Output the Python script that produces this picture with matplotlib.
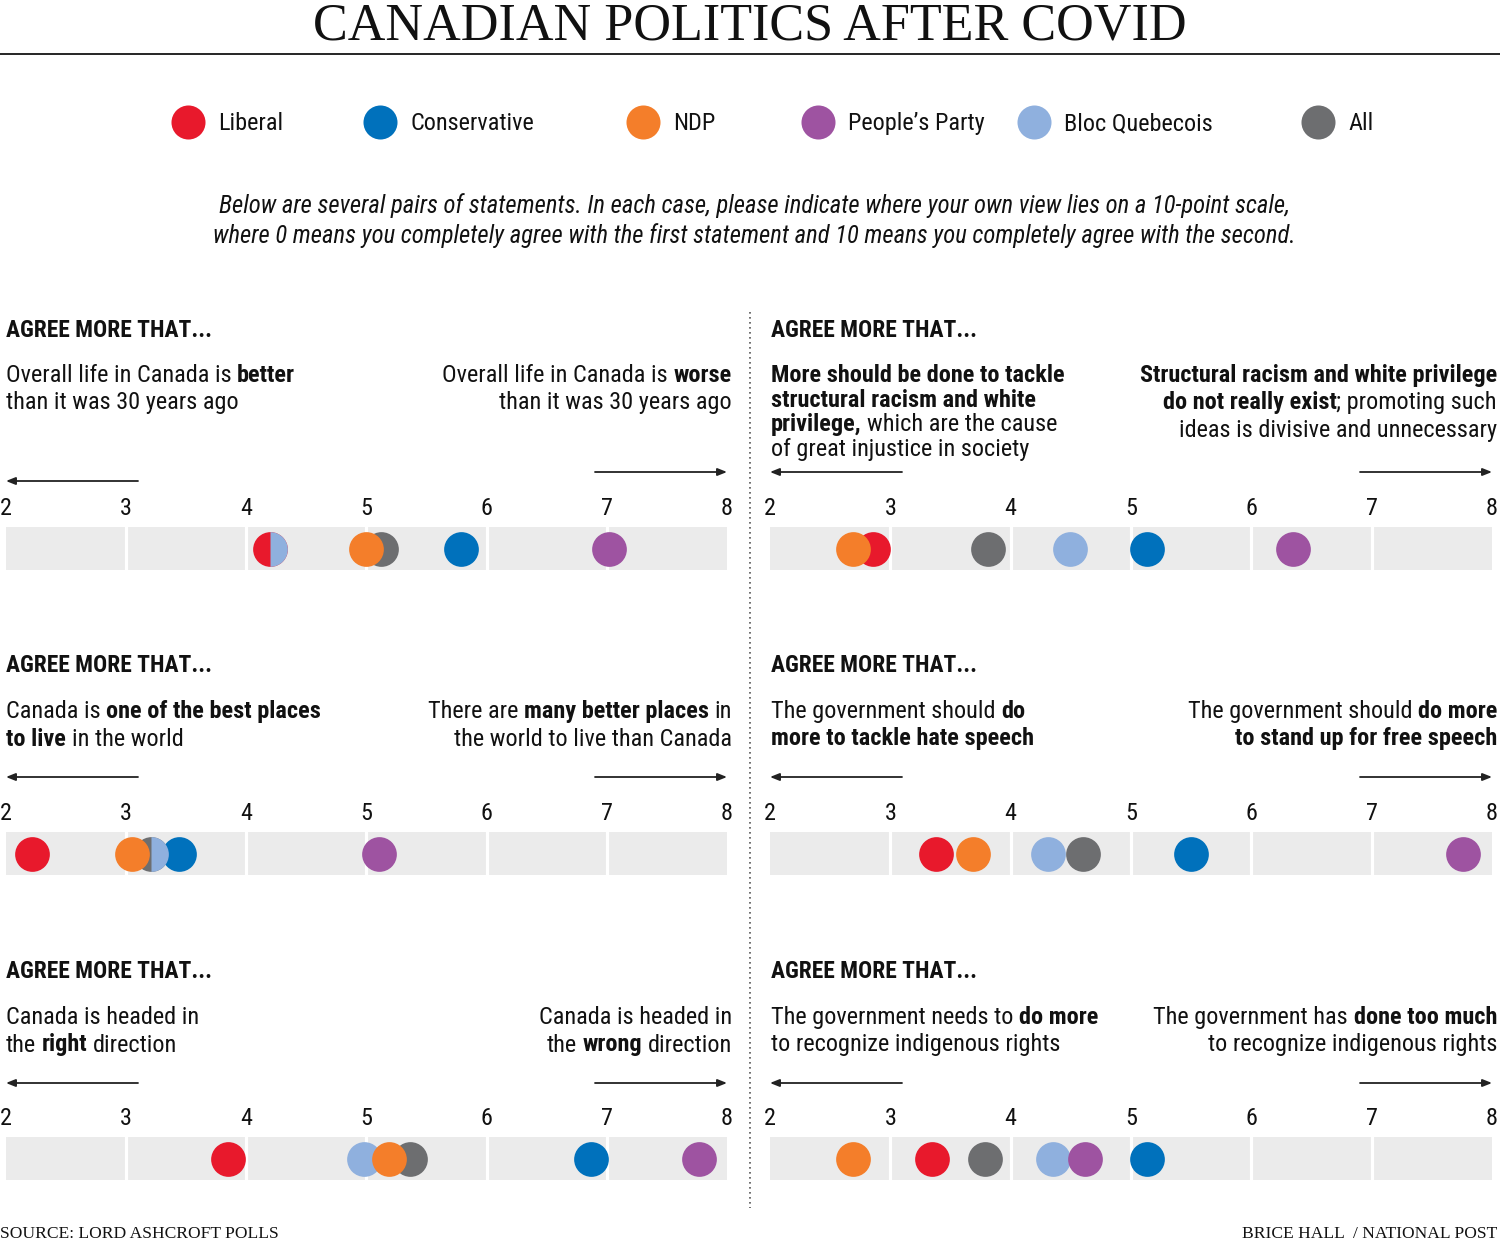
import matplotlib
matplotlib.use("Agg")
import matplotlib.pyplot as plt

# ─── data ────────────────────────────────────────────────────────────────
PARTIES = ["Liberal", "Conservative", "NDP", "People\u2019s Party", "Bloc Quebecois", "All"]
COLORS  = ["#e8192c", "#0071bc", "#f47e2a", "#9e53a1", "#8fb0de", "#6d6e70"]
ORDER   = [5, 0, 1, 4, 3, 2]          # draw order, last on top
TICKS   = [2, 3, 4, 5, 6, 7, 8]

# mean position on the 0-10 scale, in PARTIES order
LIFE_BETTER = [4.20, 5.79, 5.00, 7.02, 4.20, 5.12]
RACISM      = [2.86, 5.13, 2.69, 6.35, 4.49, 3.81]
BEST_PLACE  = [2.22, 3.44, 3.05, 5.10, 3.21, 3.21]
HATE_SPEECH = [3.38, 5.50, 3.69, 7.76, 4.31, 4.60]
DIRECTION   = [3.85, 6.87, 5.19, 7.77, 4.98, 5.36]
INDIGENOUS  = [3.35, 5.13, 2.69, 4.62, 4.35, 3.79]

# statements: list of lines, each a list of (text, bold)
LIFE_L = [[("Overall life in Canada is ", 0), ("better", 1)], [("than it was 30 years ago", 0)]]
LIFE_R = [[("Overall life in Canada is ", 0), ("worse", 1)], [("than it was 30 years ago", 0)]]
RAC_L  = [[("More should be done to tackle", 1)], [("structural racism and white", 1)],
          [("privilege,", 1), (" which are the cause", 0)], [("of great injustice in society", 0)]]
RAC_R  = [[("Structural racism and white privilege", 1)],
          [("do not really exist", 1), ("; promoting such", 0)],
          [("ideas is divisive and unnecessary", 0)]]
BEST_L = [[("Canada is ", 0), ("one of the best places", 1)], [("to live", 1), (" in the world", 0)]]
BEST_R = [[("There are ", 0), ("many better places", 1), (" in", 0)], [("the world to live than Canada", 0)]]
HATE_L = [[("The government should ", 0), ("do", 1)], [("more to tackle hate speech", 1)]]
HATE_R = [[("The government should ", 0), ("do more", 1)], [("to stand up for free speech", 1)]]
DIR_L  = [[("Canada is headed in", 0)], [("the ", 0), ("right", 1), (" direction", 0)]]
DIR_R  = [[("Canada is headed in", 0)], [("the ", 0), ("wrong", 1), (" direction", 0)]]
IND_L  = [[("The government needs to ", 0), ("do more", 1)], [("to recognize indigenous rights", 0)]]
IND_R  = [[("The government has ", 0), ("done too much", 1)], [("to recognize indigenous rights", 0)]]

# ─── layout ──────────────────────────────────────────────────────────────
W, H = 1500, 1241
SANS  = ["Roboto Condensed", "DejaVu Sans Condensed", "Open Sans Condensed", "Roboto", "DejaVu Sans"]
SERIF = ["Liberation Serif", "DejaVu Serif"]
BAND  = "#ebebeb"
INK   = "#111111"

COLS = [dict(x0=6, x1=727, tl=6, tr=732), dict(x0=770, x1=1492, tl=771, tr=1497)]
ROWS = [dict(tick=506, head=337, text=382), dict(tick=811, head=672, text=718),
        dict(tick=1116, head=978, text=1024)]

# (values, left text, right text, col, row, left spacing, right spacing, arrow y left, arrow y right)
PANELS = [
    (LIFE_BETTER, LIFE_L, LIFE_R, 0, 0, 27.5, 27.5, 481, 472),
    (RACISM,      RAC_L,  RAC_R,  1, 0, 24.7, 27.5, 472, 472),
    (BEST_PLACE,  BEST_L, BEST_R, 0, 1, 27.5, 27.5, 777, 777),
    (HATE_SPEECH, HATE_L, HATE_R, 1, 1, 27.5, 27.5, 777, 777),
    (DIRECTION,   DIR_L,  DIR_R,  0, 2, 27.5, 27.5, 1083, 1083),
    (INDIGENOUS,  IND_L,  IND_R,  1, 2, 27.5, 27.5, 1083, 1083),
]

fig = plt.figure(figsize=(W / 100, H / 100), dpi=100)
ax0 = fig.add_axes([0, 0, 1, 1])
ax0.set_xlim(0, W); ax0.set_ylim(H, 0); ax0.axis("off")
renderer = fig.canvas.get_renderer()


def width(s, bold, size):
    t = ax0.text(0, 0, s, fontsize=size, family=SANS, fontweight="bold" if bold else "normal")
    w = t.get_window_extent(renderer).width
    t.remove()
    return w


def layout_line(parts, size):
    pieces, total = [], 0.0
    for s, b in parts:
        sp = width("n n", b, size) - width("nn", b, size)
        core = s.strip(" ")
        total += (len(s) - len(s.lstrip(" "))) * sp
        pieces.append((total, core, b))
        total += width(core, b, size) + (len(s) - len(s.rstrip(" "))) * sp
    return pieces, total


# fit the sans size so the first statement line is as wide as in the original (289 px)
K = 289 / layout_line(LIFE_L[0], 18)[1]
FS, FS_HEAD, FS_SUB = 18 * K, 17.5 * K, 18.3 * K


def rich_line(x, y, parts, ha="left", size=FS):
    pieces, total = layout_line(parts, size)
    start = x if ha == "left" else x - total
    for off, core, b in pieces:
        ax0.text(start + off, y, core, ha="left", va="baseline", fontsize=size, family=SANS,
                 fontweight="bold" if b else "normal", color=INK)


def arrow(tail, tip, y):
    ax0.annotate("", xy=(tip, y), xytext=(tail, y),
                 arrowprops=dict(arrowstyle="-|>,head_length=0.55,head_width=0.22",
                                 lw=1.3, color="#222222", shrinkA=0, shrinkB=0))


# ─── header ──────────────────────────────────────────────────────────────
ax0.text(W / 2, 39, "CANADIAN POLITICS AFTER COVID", ha="center", va="baseline",
         fontsize=37.5, family=SERIF, color=INK)
ax0.plot([0, W], [54, 54], color="black", lw=1.2)

LEG_X = [188, 380, 643, 818, 1034, 1318]
for i, x in enumerate(LEG_X):
    ax0.plot(x, 122, "o", ms=24.5, color=COLORS[i], mec="none")
    ax0.text(x + 30, 130, PARTIES[i], ha="left", va="baseline", fontsize=FS,
             family=SANS, color=INK)

SUB = ["Below are several pairs of statements. In each case, please indicate where your own view lies on a 10-point scale,",
       "where 0 means you completely agree with the first statement and 10 means you completely agree with the second."]
for k, line in enumerate(SUB):
    ax0.text(754, 213 + 30 * k, line, ha="center", va="baseline", fontsize=FS_SUB,
             family=SANS, style="italic", color=INK)

ax0.plot([750, 750], [312, 1208], color="#555555", lw=1.2, ls=(0, (1, 2)))

# ─── panels ──────────────────────────────────────────────────────────────
for vals, ltxt, rtxt, c, r, lsp, rsp, ayl, ayr in PANELS:
    col, row = COLS[c], ROWS[r]
    ax0.text(col["tl"], row["head"], "AGREE MORE THAT...", ha="left", va="baseline",
             fontsize=FS_HEAD, family=SANS, fontweight="bold", color=INK)
    for k, line in enumerate(ltxt):
        rich_line(col["tl"], row["text"] + k * lsp, line, "left")
    for k, line in enumerate(rtxt):
        rich_line(col["tr"], row["text"] + k * rsp, line, "right")
    arrow(col["x0"] + 132, col["x0"], ayl)
    arrow(col["x1"] - 132, col["x1"], ayr)

    top, bot = row["tick"] + 21, row["tick"] + 64
    ax = fig.add_axes([col["x0"] / W, 1 - bot / H, (col["x1"] - col["x0"]) / W, (bot - top) / H])
    ax.set_xlim(TICKS[0], TICKS[-1]); ax.set_ylim(0, 1)
    ax.bar([t + 0.5 for t in TICKS[:-1]], 1, width=1, bottom=0, color=BAND, lw=0)
    for t in TICKS[1:-1]:
        ax.axvline(t, color="white", lw=2.3)
    drawn = []
    for i in ORDER:
        v = vals[i]
        tie = any(abs(v - d) < 1e-9 for d in drawn)
        ax.plot(v, 0.5, "o", ms=25, color=COLORS[i], mec="none", clip_on=False,
                fillstyle="right" if tie else "full", markerfacecoloralt="none", zorder=3)
        drawn.append(v)
    ax.set_xticks(TICKS)
    ax.set_xticklabels([str(t) for t in TICKS], fontsize=FS, family=SANS, color=INK)
    ax.xaxis.set_ticks_position("top")
    ax.tick_params(axis="x", length=0, pad=5)
    ax.set_yticks([])
    for s in ax.spines.values():
        s.set_visible(False)

# ─── footer ──────────────────────────────────────────────────────────────
ax0.text(0, 1238, "SOURCE: LORD ASHCROFT POLLS", ha="left", va="baseline",
         fontsize=12.6, family=SERIF, color=INK)
ax0.text(1497, 1238, "BRICE HALL  / NATIONAL POST", ha="right", va="baseline",
         fontsize=12.6, family=SERIF, color=INK)

fig.savefig("out.png", dpi=100)
